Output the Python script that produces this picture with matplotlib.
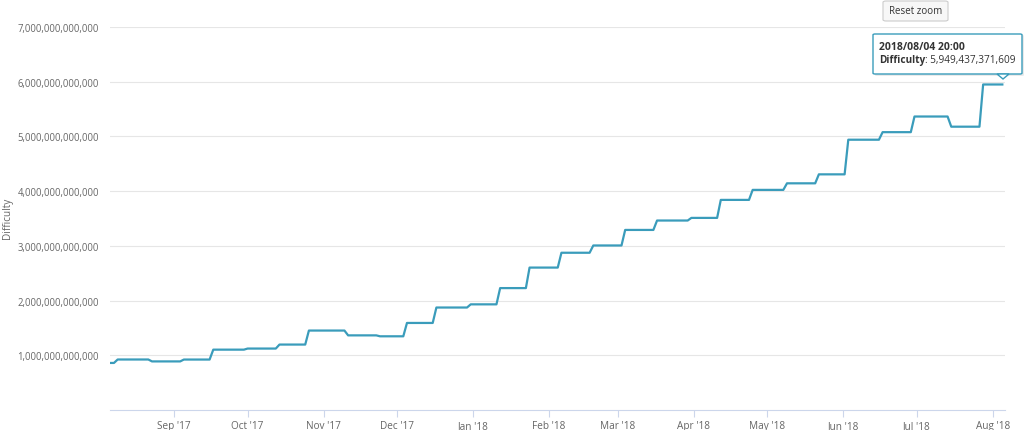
import matplotlib
matplotlib.use("Agg")
import matplotlib.pyplot as plt
from matplotlib.patches import FancyBboxPatch, Polygon
from datetime import datetime, timedelta

# Difficulty adjustment dates and values
change_dates = [
    "2017-08-05", "2017-08-09", "2017-08-23", "2017-09-05", "2017-09-17",
    "2017-10-01", "2017-10-14", "2017-10-26", "2017-11-11", "2017-11-24",
    "2017-12-05", "2017-12-17", "2017-12-31", "2018-01-12", "2018-01-24",
    "2018-02-06", "2018-02-19", "2018-03-04", "2018-03-17", "2018-03-31",
    "2018-04-12", "2018-04-25", "2018-05-09", "2018-05-22", "2018-06-03",
    "2018-06-17", "2018-06-30", "2018-07-15", "2018-07-28",
]
difficulty = [
    860e9, 923e9, 888e9, 922e9, 1103e9,
    1123e9, 1196e9, 1452e9, 1364e9, 1347e9,
    1591e9, 1873e9, 1931e9, 2228e9, 2603e9,
    2874e9, 3007e9, 3291e9, 3463e9, 3511e9,
    3840e9, 4023e9, 4143e9, 4307e9, 4940e9,
    5078e9, 5364e9, 5178e9, 5949437371609,
]
last_time = "2018-08-04 20:00"
tooltip_title = "2018/08/04 20:00"
month_ticks = ["2017-09-01", "2017-10-01", "2017-11-01", "2017-12-01", "2018-01-01",
               "2018-02-01", "2018-03-01", "2018-04-01", "2018-05-01", "2018-06-01",
               "2018-07-01", "2018-08-01"]
month_labels = ["Sep '17", "Oct '17", "Nov '17", "Dec '17", "Jan '18", "Feb '18",
                "Mar '18", "Apr '18", "May '18", "Jun '18", "Jul '18", "Aug '18"]
y_ticks = [1e12, 2e12, 3e12, 4e12, 5e12, 6e12, 7e12]
y_labels = ["1,000,000,000,000", "2,000,000,000,000", "3,000,000,000,000",
            "4,000,000,000,000", "5,000,000,000,000", "6,000,000,000,000",
            "7,000,000,000,000"]

plt.rcParams['font.family'] = ['Open Sans', 'DejaVu Sans']

dates = [datetime.fromisoformat(d) for d in change_dates]
end = datetime.fromisoformat(last_time)
xs, ys = [], []
for i, (d, v) in enumerate(zip(dates, difficulty)):
    nxt = dates[i + 1] - timedelta(days=1.5) if i + 1 < len(dates) else end
    xs += [d, nxt]
    ys += [v, v]

W, H = 1024, 431
fig = plt.figure(figsize=(W / 100, H / 100), dpi=100)
ax = fig.add_axes([110 / W, 1 - 411 / H, (1005 - 110) / W, (411 - 28) / H])

ax.plot(xs, ys, color='#3a9cbb', lw=1.6, solid_joinstyle='round')

ax.set_ylim(0, 7e12)
ax.set_xlim(datetime(2017, 8, 5, 21), datetime(2018, 8, 5, 22))
ax.set_yticks(y_ticks)
ax.set_yticklabels(y_labels)
ax.set_xticks([datetime.fromisoformat(d) for d in month_ticks])
ax.set_xticklabels(month_labels)
ax.grid(axis='y', color='#e6e6e6', lw=0.8)
ax.set_axisbelow(True)
for s in ['top', 'right', 'left']:
    ax.spines[s].set_visible(False)
ax.spines['bottom'].set_color('#ccd6eb')
ax.tick_params(axis='y', length=0, pad=8, labelsize=6.85, labelcolor='#666666')
ax.tick_params(axis='x', length=5, color='#ccd6eb', labelsize=7.2, labelcolor='#666666', pad=2)
fig.text(8 / W, 1 - 218 / H, "Difficulty", rotation=90, ha='center', va='center',
         fontsize=7.2, color='#666666')

# Reset zoom button
btn = FancyBboxPatch((883 / W, 1 - 22 / H), 65 / W, 20 / H, boxstyle="round,pad=0,rounding_size=0.003",
                     transform=fig.transFigure, facecolor='#f7f7f7', edgecolor='#cccccc', lw=0.8)
fig.patches.append(btn)
fig.text(915.5 / W, 1 - 12 / H, "Reset zoom", ha='center', va='center', fontsize=7, color='#333333')

# Tooltip
shadow = FancyBboxPatch((875 / W, 1 - 77 / H), 149 / W, 41 / H, boxstyle="round,pad=0,rounding_size=0.002",
                        transform=fig.transFigure, facecolor='#dddddd', edgecolor='none', alpha=0.6)
fig.patches.append(shadow)
tip = FancyBboxPatch((873 / W, 1 - 75 / H), 149 / W, 40 / H, boxstyle="round,pad=0,rounding_size=0.002",
                     transform=fig.transFigure, facecolor='white', edgecolor='#3a9cbb', lw=1.0)
fig.patches.append(tip)
tri = Polygon([(997 / W, 1 - 75 / H), (1003 / W, 1 - 80 / H), (1009 / W, 1 - 75 / H)],
              closed=True, transform=fig.transFigure, facecolor='white', edgecolor='#3a9cbb', lw=1.0)
fig.patches.append(tri)
fig.text(879 / W, 1 - 47 / H, tooltip_title, ha='left', va='center', fontsize=7.5, fontweight='bold', color='#333333')
t1 = fig.text(879 / W, 1 - 61 / H, "Difficulty", ha='left', va='center', fontsize=7.2, fontweight='bold', color='#333333')
fig.canvas.draw()
bb = t1.get_window_extent()
fig.text(bb.x1 / W, 1 - 61 / H, ": " + f"{difficulty[-1]:,.0f}", ha='left', va='center', fontsize=7.2, color='#333333')

fig.savefig("out.png", dpi=100)
